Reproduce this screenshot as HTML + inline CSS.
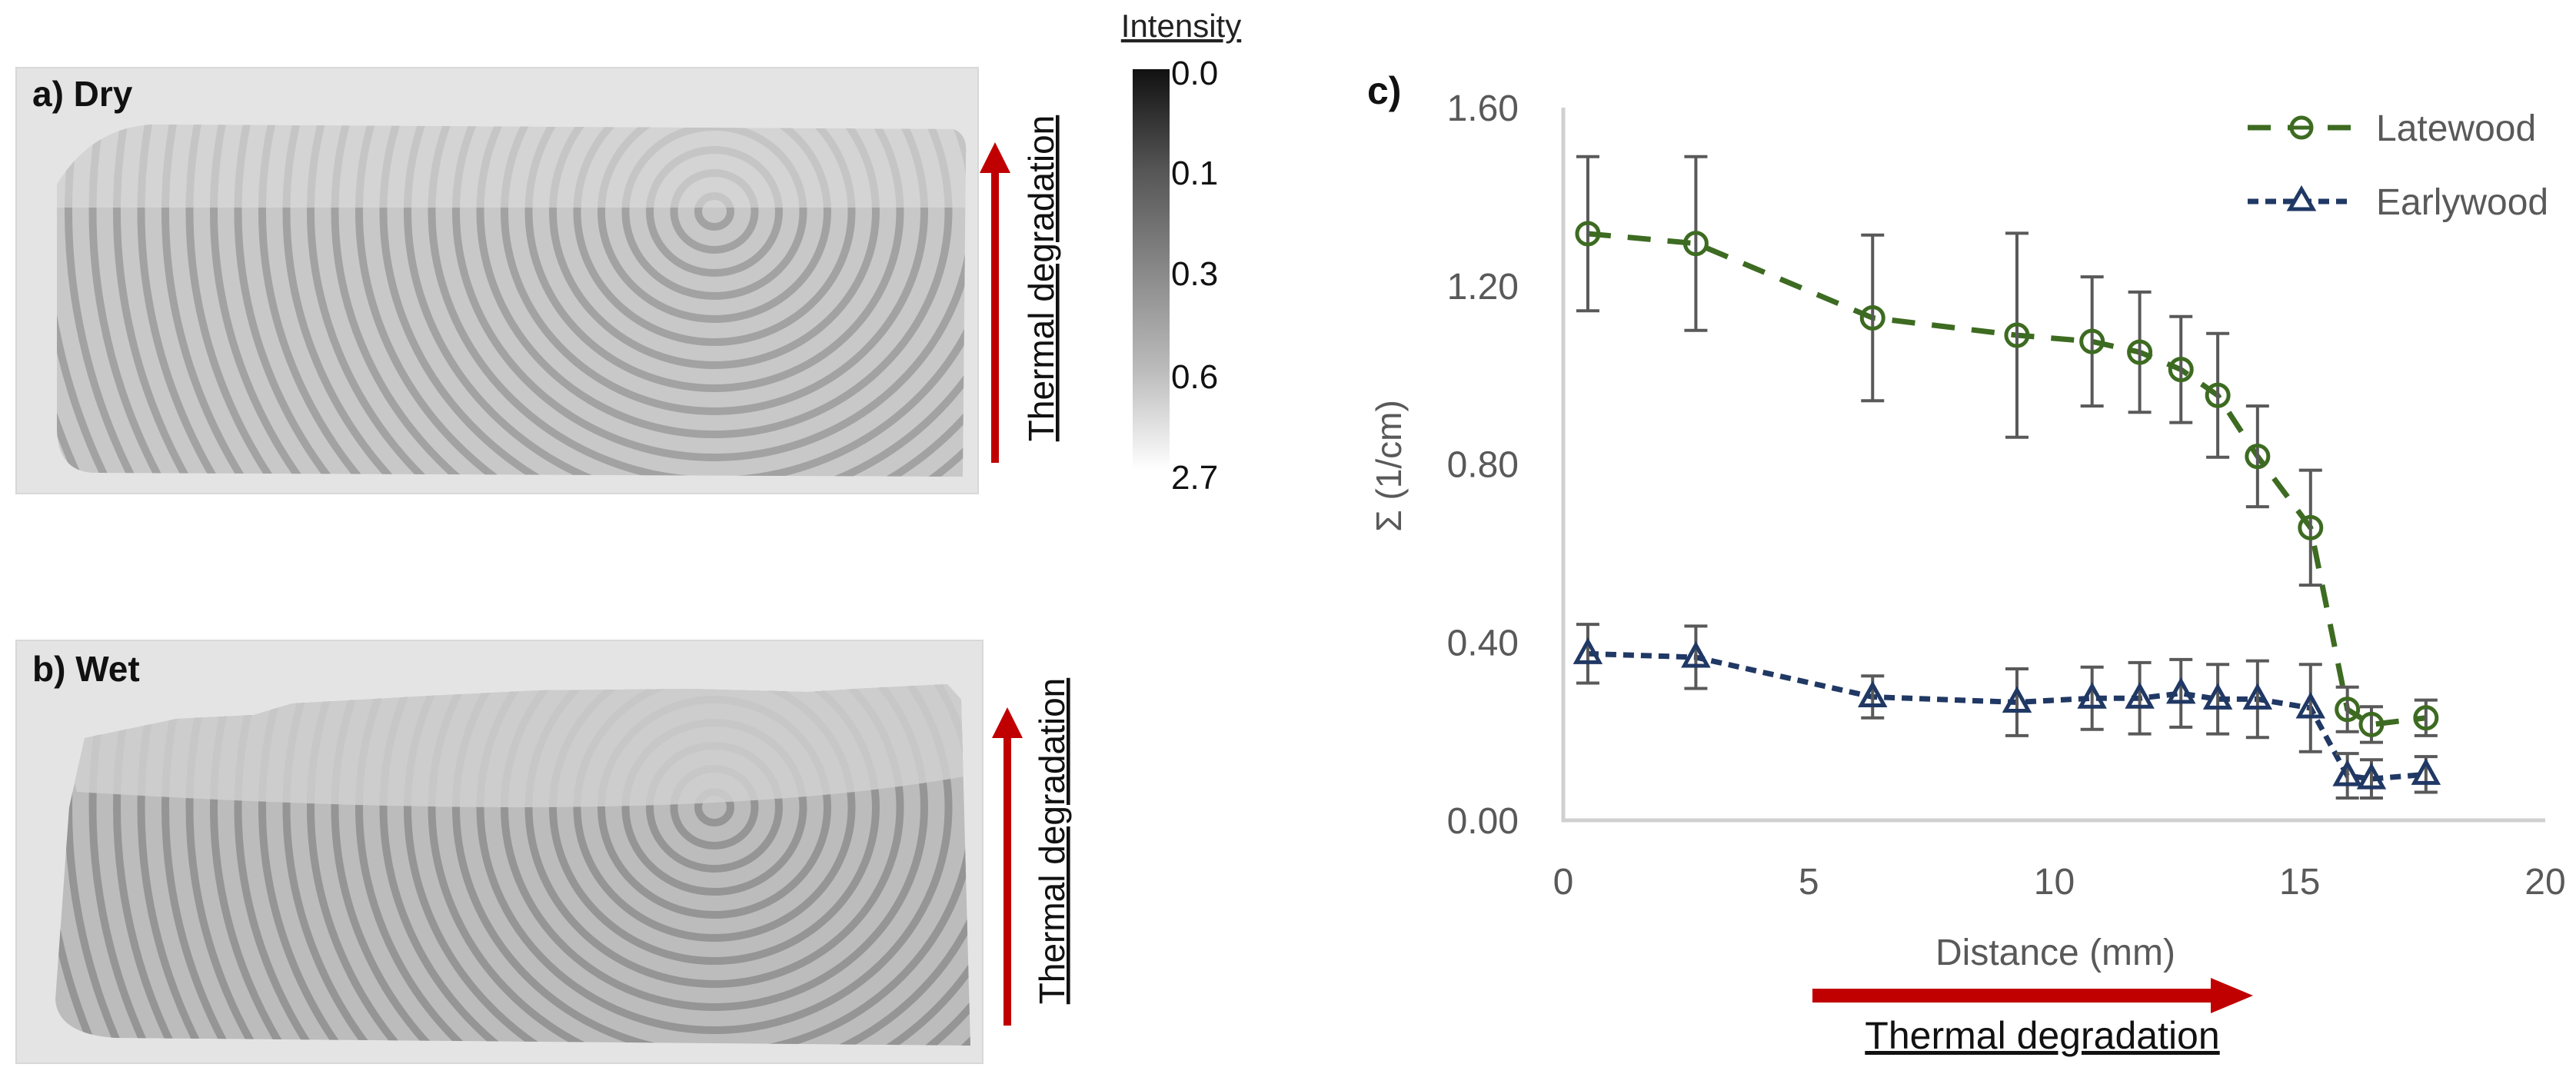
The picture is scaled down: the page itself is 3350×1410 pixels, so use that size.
<!DOCTYPE html>
<html><head><meta charset="utf-8"><style>
html,body{margin:0;padding:0;background:#fff;width:3350px;height:1410px;overflow:hidden;}
svg{display:block;font-family:"Liberation Sans",sans-serif;}
</style></head><body>
<svg width="3350" height="1410" viewBox="0 0 3350 1410">
<defs>
<linearGradient id="cbar" x1="0" y1="0" x2="0" y2="1">
<stop offset="0" stop-color="#111"/><stop offset="0.25" stop-color="#555"/><stop offset="0.5" stop-color="#888"/><stop offset="0.75" stop-color="#bbb"/><stop offset="1" stop-color="#fff"/>
</linearGradient>
<marker id="ah" markerWidth="4" markerHeight="4" refX="2" refY="2" orient="auto" markerUnits="strokeWidth"><path d="M0,0 L4,2 L0,4 z" fill="#c00000"/></marker>
<clipPath id="woodA"><path d="M74,240 Q120,165 200,162 L1240,168 Q1258,175 1256,200 L1252,620 L120,615 Q76,612 74,560 Z"/></clipPath>
<clipPath id="woodB"><path d="M110,960 L230,935 L330,930 L380,915 L560,905 L700,898 L900,896 L1050,900 L1130,895 L1232,890 L1250,910 L1262,1360 L150,1350 Q75,1345 72,1300 L90,1050 Z"/></clipPath>
</defs>

<g>
<rect x="21" y="88" width="1251" height="554" fill="#e4e4e4" stroke="#d8d8d8" stroke-width="2"/>
<g clip-path="url(#woodA)">
<rect x="60" y="150" width="1220" height="480" fill="#c8c8c8"/>
<g id="ringsA" fill="none" stroke="#a2a2a2" stroke-width="10"></g>
<rect x="60" y="150" width="1220" height="120" fill="#dcdcdc" opacity="0.6"/>
</g>
<text x="42" y="138" font-size="46" font-weight="bold" fill="#111">a)  Dry</text>
</g>
<line x1="1294" y1="602" x2="1294" y2="205" stroke="#c00000" stroke-width="10" marker-end="url(#ah)"/>
<text transform="translate(1370,362) rotate(-90)" text-anchor="middle" font-size="46" fill="#111" text-decoration="underline">Thermal degradation</text>

<g>
<text x="1536" y="48" text-anchor="middle" font-size="42" fill="#222" text-decoration="underline">Intensity</text>
<rect x="1473" y="90" width="48" height="521" fill="url(#cbar)"/>
<text x="1523" y="110" font-size="44" fill="#111">0.0</text>
<text x="1523" y="240" font-size="44" fill="#111">0.1</text>
<text x="1523" y="371" font-size="44" fill="#111">0.3</text>
<text x="1523" y="505" font-size="44" fill="#111">0.6</text>
<text x="1523" y="636" font-size="44" fill="#111">2.7</text>
</g>

<g>
<rect x="21" y="833" width="1257" height="550" fill="#e4e4e4" stroke="#d8d8d8" stroke-width="2"/>
<g clip-path="url(#woodB)">
<rect x="60" y="880" width="1220" height="490" fill="#bcbcbc"/>
<g id="ringsB" fill="none" stroke="#959595" stroke-width="10"></g>
<path d="M60,880 L1280,880 L1280,1005 Q900,1080 100,1030 Z" fill="#d0d0d0" opacity="0.85"/>
</g>
<text x="42" y="886" font-size="46" font-weight="bold" fill="#111">b)  Wet</text>
</g>
<line x1="1310" y1="1334" x2="1310" y2="940" stroke="#c00000" stroke-width="10" marker-end="url(#ah)"/>
<text transform="translate(1384,1094) rotate(-90)" text-anchor="middle" font-size="46" fill="#111" text-decoration="underline">Thermal degradation</text>

<text x="1778" y="135" font-size="50" font-weight="bold" fill="#111">c)</text>
<g id="chart"></g>
<text transform="translate(1822,606) rotate(-90)" text-anchor="middle" font-size="46" fill="#595959">Σ (1/cm)</text>
<text x="2673" y="1255" text-anchor="middle" font-size="48" fill="#595959">Distance (mm)</text>
<line x1="2357" y1="1295" x2="2880" y2="1295" stroke="#c00000" stroke-width="18"/>
<path d="M2875,1272 L2930,1295 L2875,1318 Z" fill="#c00000"/>
<text x="2656" y="1364" text-anchor="middle" font-size="50" fill="#111" text-decoration="underline">Thermal degradation</text>

<g>
<g>
<line x1="2923" y1="166" x2="3060" y2="166" stroke="#3d6b21" stroke-width="7" stroke-dasharray="30,22"/>
<circle cx="2993" cy="166" r="13" fill="#fff" stroke="#3d6b21" stroke-width="5"/>
<line x1="2980" y1="166" x2="3006" y2="166" stroke="#3d6b21" stroke-width="5"/>
<text x="3090" y="183" font-size="48" fill="#595959">Latewood</text>
</g>
<g>
<line x1="2923" y1="262" x2="3060" y2="262" stroke="#203864" stroke-width="7" stroke-dasharray="14,9"/>
<path d="M2993,246 L3008,272 L2978,272 Z" fill="#fff" stroke="#203864" stroke-width="5"/>
<text x="3090" y="279" font-size="48" fill="#595959">Earlywood</text>
</g>
</g>
</svg>
<script>
const distances = [0.5, 2.7, 6.3, 9.24, 10.77, 11.74, 12.58, 13.33, 14.14, 15.22, 15.97, 16.46, 17.57];
const latewood = [1.317, 1.295, 1.128, 1.089, 1.075, 1.051, 1.012, 0.954, 0.817, 0.657, 0.249, 0.215, 0.230];
const latewoodErr = [0.173, 0.195, 0.186, 0.229, 0.145, 0.135, 0.119, 0.139, 0.113, 0.129, 0.05, 0.04, 0.04];
const earlywood = [0.374, 0.366, 0.277, 0.265, 0.274, 0.274, 0.285, 0.272, 0.272, 0.252, 0.100, 0.093, 0.103];
const earlywoodErr = [0.066, 0.07, 0.047, 0.075, 0.07, 0.08, 0.076, 0.078, 0.086, 0.098, 0.05, 0.043, 0.04];
const yTicks = ["0.00", "0.40", "0.80", "1.20", "1.60"];
const xTicks = ["0", "5", "10", "15", "20"];

const NS = "http://www.w3.org/2000/svg";
const X0 = 2033, X1 = 3310, Y0 = 1067, Y1 = 140;
function xs(v){ return X0 + (X1 - X0) * v / 20; }
function ys(v){ return Y0 - (Y0 - Y1) * v / 1.6; }
function mk(tag, attrs, parent){ const e = document.createElementNS(NS, tag); for (const k in attrs) e.setAttribute(k, attrs[k]); parent.appendChild(e); return e; }
const chart = document.getElementById('chart');

const ra = document.getElementById('ringsA');
for (let r = 20; r < 1000; r += 30) { mk('ellipse', {cx: 929, cy: 275, rx: r * 1.05, ry: r}, ra); }
const rb = document.getElementById('ringsB');
for (let r = 20; r < 1000; r += 30) { mk('ellipse', {cx: 929, cy: 1050, rx: r * 1.05, ry: r}, rb); }

const yAxis = mk('line', {x1: X0, y1: Y1, x2: X0, y2: Y0 + 2, stroke: '#d0d0d0', 'stroke-width': 5}, chart);


const xAxis = mk('line', {x1: X0 - 2, y1: Y0, x2: X1, y2: Y0, stroke: '#d0d0d0', 'stroke-width': 5}, chart);


yTicks.forEach(function(t){
  const e = mk('text', {x: 1975, y: ys(parseFloat(t)) + 17, 'text-anchor': 'end', 'font-size': 48, fill: '#595959'}, chart);
  e.textContent = t;
  
  
});
xTicks.forEach(function(t){
  const e = mk('text', {x: xs(parseFloat(t)), y: 1163, 'text-anchor': 'middle', 'font-size': 48, fill: '#595959'}, chart);
  e.textContent = t;
  
  
});

function series(vals, errs, color, dash, kind, name){
  const g = mk('g', {}, chart);
  
  
  const pts = distances.map(function(d, i){ return xs(d) + ',' + ys(vals[i]); }).join(' ');
  const line = mk('polyline', {points: pts, fill: 'none', stroke: color, 'stroke-width': 7, 'stroke-dasharray': dash}, g);
  
  
  distances.forEach(function(d, i){
    const x = xs(d), yt = ys(vals[i] + errs[i]), yb = ys(vals[i] - errs[i]);
    const eb = mk('path', {d: 'M' + x + ',' + yt + ' V' + yb + ' M' + (x - 15) + ',' + yt + ' H' + (x + 15) + ' M' + (x - 15) + ',' + yb + ' H' + (x + 15), stroke: '#595959', 'stroke-width': 4, fill: 'none'}, g);
    
    
  });
  distances.forEach(function(d, i){
    const x = xs(d), y = ys(vals[i]);
    let m;
    if (kind === 'circle') {
      m = mk('circle', {cx: x, cy: y, r: 14, fill: 'none', stroke: color, 'stroke-width': 5}, g);
    } else {
      m = mk('path', {d: 'M' + x + ',' + (y - 16) + ' L' + (x + 15) + ',' + (y + 11) + ' L' + (x - 15) + ',' + (y + 11) + ' Z', fill: 'none', stroke: color, 'stroke-width': 5}, g);
    }
    
    
  });
}
series(earlywood, earlywoodErr, '#203864', '14,9', 'tri', 'earlywood');
series(latewood, latewoodErr, '#3d6b21', '30,22', 'circle', 'latewood');
</script>
</body></html>
